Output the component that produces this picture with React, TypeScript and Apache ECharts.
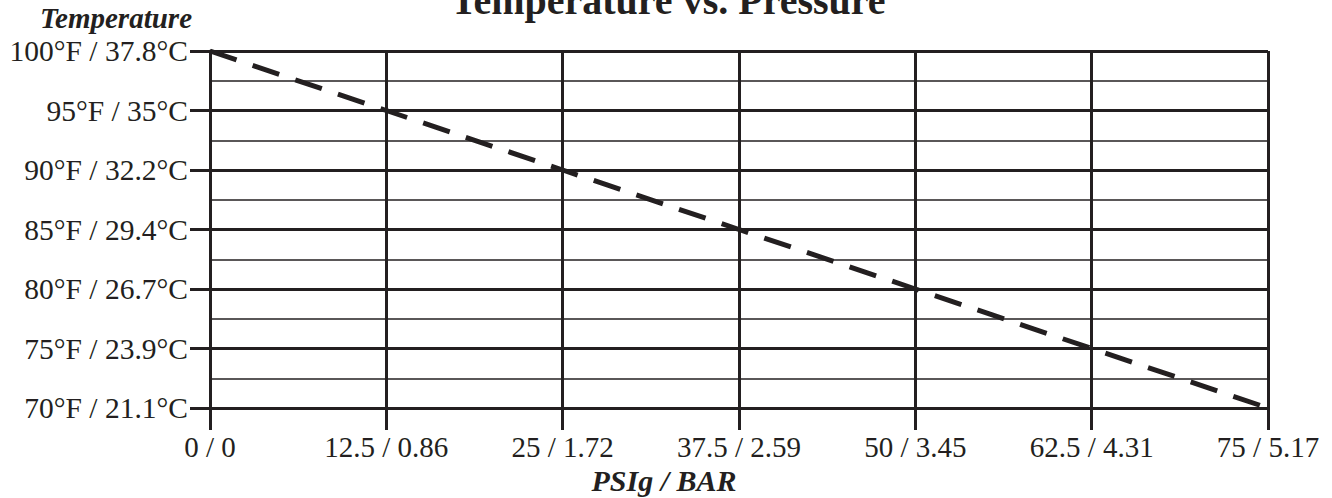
import React, { useEffect, useRef } from "react";
import * as echarts from "echarts";

const xTickValues = [0, 12.5, 25, 37.5, 50, 62.5, 75];
const xTickLabels = ["0 / 0", "12.5 / 0.86", "25 / 1.72", "37.5 / 2.59", "50 / 3.45", "62.5 / 4.31", "75 / 5.17"];
const yTickValues = [70, 75, 80, 85, 90, 95, 100];
const yTickLabels = ["70°F / 21.1°C", "75°F / 23.9°C", "80°F / 26.7°C", "85°F / 29.4°C", "90°F / 32.2°C", "95°F / 35°C", "100°F / 37.8°C"];
const psi = [0, 12.5, 25, 37.5, 50, 62.5, 75];
const tempF = [100, 95, 90, 85, 80, 75, 70];

const INK = "#231f20";
const SERIF = "'Liberation Serif', 'Times New Roman', serif";

export default function App() {
  const ref = useRef<HTMLDivElement>(null);
  useEffect(() => {
    if (!ref.current) return;
    const chart = echarts.init(ref.current, undefined, { renderer: "svg" });
    const labelFor = (vals: number[], labels: string[]) => (v: number) => {
      const i = vals.findIndex((t) => Math.abs(t - v) < 1e-6);
      return i >= 0 ? labels[i] : "";
    };
    chart.setOption({
      animation: false,
      backgroundColor: "#ffffff",
      grid: { left: 210, right: 64, top: 51, bottom: 90, containLabel: false },
      xAxis: {
        type: "value",
        min: 0,
        max: 75,
        interval: 12.5,
        axisLine: { show: true, lineStyle: { color: INK, width: 3 } },
        axisTick: { show: true, length: 22, lineStyle: { color: INK, width: 3 } },
        axisLabel: {
          margin: 24,
          color: INK,
          fontFamily: SERIF,
          fontSize: 29,
          formatter: labelFor(xTickValues, xTickLabels),
          showMinLabel: true,
          showMaxLabel: true,
        },
        splitLine: { show: true, lineStyle: { color: INK, width: 3 } },
      },
      yAxis: {
        type: "value",
        min: 70,
        max: 100,
        interval: 5,
        axisLine: { show: true, lineStyle: { color: INK, width: 3 } },
        axisTick: { show: true, length: 20, lineStyle: { color: INK, width: 3 } },
        minorTick: { show: false, splitNumber: 2 },
        minorSplitLine: { show: true, lineStyle: { color: INK, width: 1.5 } },
        axisLabel: {
          margin: 22,
          color: INK,
          fontFamily: SERIF,
          fontSize: 29.5,
          formatter: labelFor(yTickValues, yTickLabels),
        },
        splitLine: { show: true, lineStyle: { color: INK, width: 3 } },
      },
      graphic: [
        {
          type: "text",
          x: 668,
          y: 0,
          style: {
            text: "Temperature vs. Pressure",
            fill: INK,
            font: `bold 40px ${SERIF}`,
            textAlign: "center",
            textVerticalAlign: "middle",
          },
        },
        {
          type: "text",
          x: 116,
          y: 18,
          style: {
            text: "Temperature",
            fill: INK,
            font: `italic bold 29px ${SERIF}`,
            textAlign: "center",
            textVerticalAlign: "middle",
          },
        },
        {
          type: "text",
          x: 664,
          y: 480,
          style: {
            text: "PSIg / BAR",
            fill: INK,
            font: `italic bold 30px ${SERIF}`,
            textAlign: "center",
            textVerticalAlign: "middle",
          },
        },
      ],
      series: [
        {
          type: "line",
          data: psi.map((p, i) => [p, tempF[i]]),
          symbol: "none",
          lineStyle: { color: INK, width: 5, type: [28, 17], cap: "butt" },
          z: 5,
        },
      ],
    });
    return () => chart.dispose();
  }, []);
  return (
    <div
      ref={ref}
      style={{ position: "fixed", left: 0, top: 0, width: 1332, height: 498 }}
    />
  );
}
